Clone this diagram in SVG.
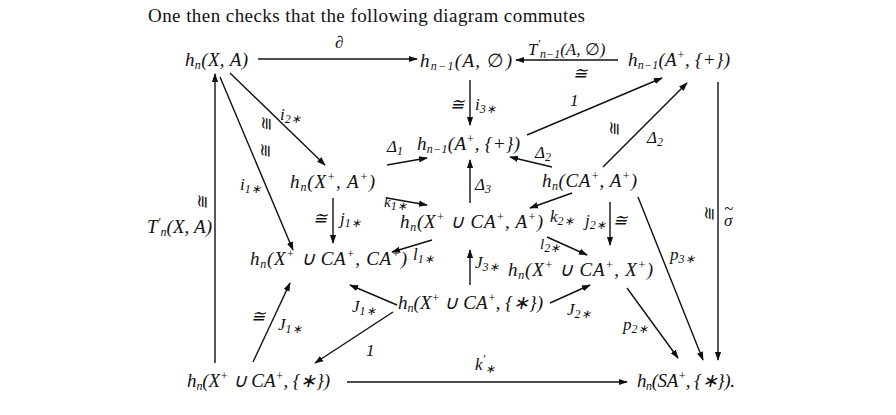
<svg xmlns="http://www.w3.org/2000/svg" width="896" height="415" viewBox="0 0 896 415">
<style>
.t{font-family:"Liberation Serif","Times New Roman",serif;font-style:italic;font-size:19px;fill:#111}
.u{font-style:normal}
.l{font-family:"Liberation Serif","Times New Roman",serif;font-style:italic;font-size:17px;fill:#111}
.b{font-size:12px;baseline-shift:-3px}
.p{font-size:12px;baseline-shift:7px}
.c line{stroke:#111;stroke-width:1.4}
.a{marker-end:url(#ah)}
</style>
<defs><marker id="ah" viewBox="0 0 10 10" refX="9" refY="5" markerWidth="9" markerHeight="9" markerUnits="userSpaceOnUse" orient="auto"><path d="M0,1.5L10,5L0,8.5z" fill="#111"/></marker></defs>
<rect width="896" height="415" fill="#fff"/>
<text x="148" y="22" textLength="437" style="font-family:'Liberation Serif',serif;font-size:19px;fill:#111">One then checks that the following diagram commutes</text>

<g id="n1"><text class="t" x="185" y="66" textLength="63">h<tspan class="b">n</tspan>(X, A)</text></g>
<g id="n2"><text class="t" x="420" y="67" textLength="92">h<tspan class="b">n−1</tspan>(A, <tspan class="u">∅</tspan>)</text></g>
<g id="n3"><text class="t" x="628" y="66" textLength="102">h<tspan class="b">n−1</tspan>(A<tspan class="p">+</tspan>, {+})</text></g>
<g id="n4"><text class="t" x="417" y="150" textLength="103">h<tspan class="b">n−1</tspan>(A<tspan class="p">+</tspan>, {+})</text></g>
<g id="n5"><text class="t" x="290" y="188" textLength="85">h<tspan class="b">n</tspan>(X<tspan class="p">+</tspan>, A<tspan class="p">+</tspan>)</text></g>
<g id="n6"><text class="t" x="542" y="187" textLength="95">h<tspan class="b">n</tspan>(CA<tspan class="p">+</tspan>, A<tspan class="p">+</tspan>)</text></g>
<g id="n7"><text class="t" x="147" y="233" textLength="65">T<tspan class="p">′</tspan><tspan class="b">n</tspan>(X, A)</text></g>
<g id="n8"><text class="t" x="400" y="228" textLength="143">h<tspan class="b">n</tspan>(X<tspan class="p">+</tspan> ∪ CA<tspan class="p">+</tspan>, A<tspan class="p">+</tspan>)</text></g>
<g id="n9"><text class="t" x="250" y="265" textLength="157">h<tspan class="b">n</tspan>(X<tspan class="p">+</tspan> ∪ CA<tspan class="p">+</tspan>, CA<tspan class="p">+</tspan>)</text></g>
<g id="n10"><text class="t" x="508" y="276" textLength="145">h<tspan class="b">n</tspan>(X<tspan class="p">+</tspan> ∪ CA<tspan class="p">+</tspan>, X<tspan class="p">+</tspan>)</text></g>
<g id="n11"><text class="t" x="398" y="309" textLength="145">h<tspan class="b">n</tspan>(X<tspan class="p">+</tspan> ∪ CA<tspan class="p">+</tspan>, {∗})</text></g>
<g id="n12"><text class="t" x="187" y="387" textLength="143">h<tspan class="b">n</tspan>(X<tspan class="p">+</tspan> ∪ CA<tspan class="p">+</tspan>, {∗})</text></g>
<g id="n13"><text class="t" x="637" y="387" textLength="98">h<tspan class="b">n</tspan>(SA<tspan class="p">+</tspan>, {∗}).</text></g>

<g id="connectors" class="c">
<line class="a" x1="258" y1="59" x2="417" y2="59"/>
<line class="a" x1="618" y1="60" x2="516" y2="60"/>
<line class="a" x1="470" y1="80" x2="470" y2="125"/>
<line class="a" x1="527" y1="135" x2="662" y2="78"/>
<line class="a" x1="603" y1="167" x2="687" y2="83"/>
<line class="a" x1="552" y1="167" x2="510" y2="157"/>
<line class="a" x1="387" y1="165" x2="427" y2="158"/>
<line class="a" x1="230" y1="73" x2="325" y2="165"/>
<line class="a" x1="220" y1="77" x2="293" y2="250"/>
<line class="a" x1="215" y1="363" x2="215" y2="74"/>
<line class="a" x1="387" y1="198" x2="427" y2="205"/>
<line class="a" x1="470" y1="203" x2="470" y2="160"/>
<line class="a" x1="333" y1="198" x2="333" y2="243"/>
<line class="a" x1="572" y1="193" x2="530" y2="208"/>
<line class="a" x1="610" y1="202" x2="610" y2="245"/>
<line class="a" x1="432" y1="240" x2="392" y2="252"/>
<line class="a" x1="470" y1="285" x2="470" y2="250"/>
<line class="a" x1="547" y1="237" x2="587" y2="255"/>
<line class="a" x1="638" y1="197" x2="703" y2="360"/>
<line class="a" x1="718" y1="82" x2="718" y2="360"/>
<line class="a" x1="397" y1="305" x2="350" y2="285"/>
<line class="a" x1="550" y1="303" x2="590" y2="285"/>
<line class="a" x1="253" y1="362" x2="290" y2="283"/>
<line class="a" x1="393" y1="312" x2="315" y2="363"/>
<line class="a" x1="627" y1="288" x2="678" y2="358"/>
<line class="a" x1="347" y1="382" x2="627" y2="382"/>
</g>

<g id="labels">
<text class="l u" x="335" y="48">∂</text>
<text class="l" x="528" y="55">T<tspan class="p">′</tspan><tspan class="b">n−1</tspan>(A, <tspan class="u">∅</tspan>)</text>
<text class="l u" x="573" y="79">≅</text>
<text class="l u" x="450" y="110">≅</text>
<text class="l" x="475" y="110">i<tspan class="b">3∗</tspan></text>
<text class="l u" x="570" y="106">1</text>
<text class="l u" transform="translate(620,137) rotate(-90)">≅</text>
<text class="l" x="647" y="143">Δ<tspan class="b">2</tspan></text>
<text class="l" x="535" y="158">Δ<tspan class="b">2</tspan></text>
<text class="l" x="387" y="152">Δ<tspan class="b">1</tspan></text>
<text class="l" x="280" y="120">i<tspan class="b">2∗</tspan></text>
<text class="l u" transform="translate(272,132) rotate(-90)">≅</text>
<text class="l u" transform="translate(271,159) rotate(-90)">≅</text>
<text class="l" x="240" y="190">i<tspan class="b">1∗</tspan></text>
<text class="l u" transform="translate(208,210) rotate(-90)">≅</text>
<text class="l" x="384" y="207" style="font-size:15px">k<tspan class="b">1∗</tspan></text>
<text class="l" x="475" y="190">Δ<tspan class="b">3</tspan></text>
<text class="l u" x="313" y="224">≅</text>
<text class="l" x="340" y="224">j<tspan class="b">1∗</tspan></text>
<text class="l" x="550" y="222">k<tspan class="b">2∗</tspan></text>
<text class="l" x="585" y="226">j<tspan class="b">2∗</tspan></text>
<text class="l u" x="613" y="226">≅</text>
<text class="l u" transform="translate(715,222) rotate(-90)">≅</text>
<text class="l" x="724" y="226">σ</text>
<text class="l u" x="724" y="214">~</text>
<text class="l" x="413" y="260">l<tspan class="b">1∗</tspan></text>
<text class="l" x="540" y="249" style="font-size:15px">l<tspan class="b">2∗</tspan></text>
<text class="l" x="475" y="268">J<tspan class="b">3∗</tspan></text>
<text class="l" x="670" y="260">p<tspan class="b">3∗</tspan></text>
<text class="l" x="352" y="312">J<tspan class="b">1∗</tspan></text>
<text class="l" x="567" y="315">J<tspan class="b">2∗</tspan></text>
<text class="l u" x="251" y="322">≅</text>
<text class="l" x="278" y="330">J<tspan class="b">1∗</tspan></text>
<text class="l u" x="366" y="356">1</text>
<text class="l" x="623" y="330">p<tspan class="b">2∗</tspan></text>
<text class="l" x="475" y="370">k<tspan class="p">′</tspan><tspan class="b">∗</tspan></text>
</g>
</svg>
